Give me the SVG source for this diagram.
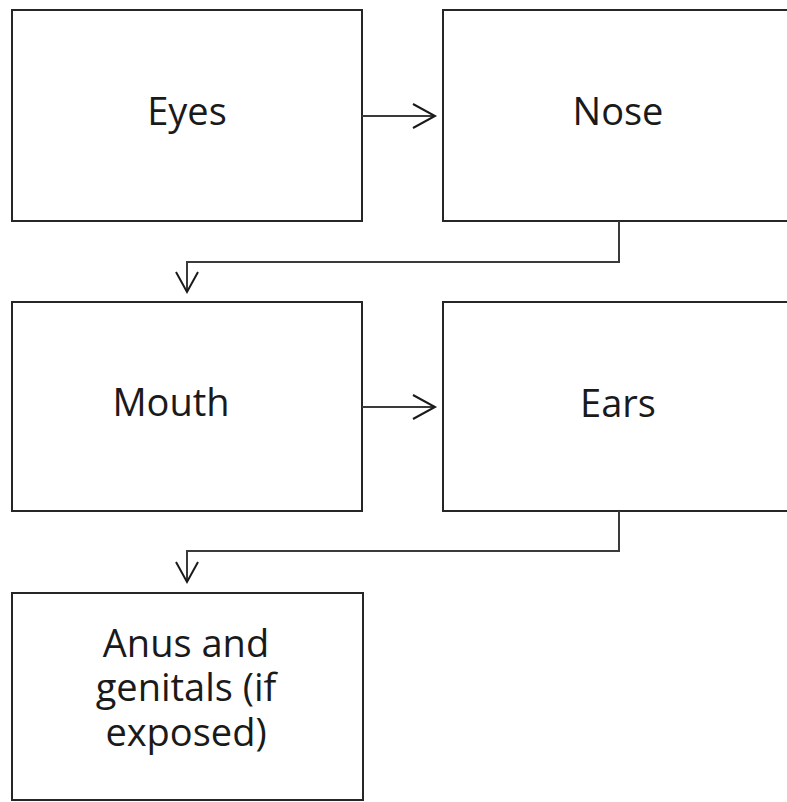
<svg xmlns="http://www.w3.org/2000/svg" width="787" height="802" viewBox="0 0 787 802">
<style>
.box{fill:#fff;stroke:#262626;stroke-width:2}
.lbl{font-family:"Open Sans","Noto Sans",sans-serif;font-size:38px;fill:#1a1a1a;text-anchor:middle}
.con{fill:none;stroke:#3a3a3a;stroke-width:2}
.head{fill:none;stroke:#1a1a1a;stroke-width:2}
</style>
<rect width="787" height="802" fill="#fff"/>
<g id="eyes"><rect class="box" x="12" y="10" width="350" height="211"/><text class="lbl" x="187" y="125">Eyes</text></g>
<g id="nose"><rect class="box" x="443" y="10" width="352" height="211"/><text class="lbl" x="618" y="125">Nose</text></g>
<g id="mouth"><rect class="box" x="12" y="302" width="350" height="209"/><text class="lbl" x="171" y="416">Mouth</text></g>
<g id="ears"><rect class="box" x="443" y="302" width="352" height="209"/><text class="lbl" x="618" y="417">Ears</text></g>
<g id="anus"><rect class="box" x="12" y="593" width="351" height="207"/><text class="lbl" x="186"><tspan x="186" y="657">Anus and</tspan><tspan x="186" y="701">genitals (if</tspan><tspan x="186" y="746">exposed)</tspan></text></g>
<g id="connectors">
<path class="con" d="M362 116 H434"/><path class="head" d="M413 104 L435 116 L413 128"/>
<path class="con" d="M619 221 V262 H187 V291"/><path class="head" d="M176 272 L187 292 L198 272"/>
<path class="con" d="M362 407 H434"/><path class="head" d="M413 395 L435 407 L413 419"/>
<path class="con" d="M619 511 V551 H187 V581"/><path class="head" d="M176 562 L187 582 L198 562"/>
</g>
</svg>
